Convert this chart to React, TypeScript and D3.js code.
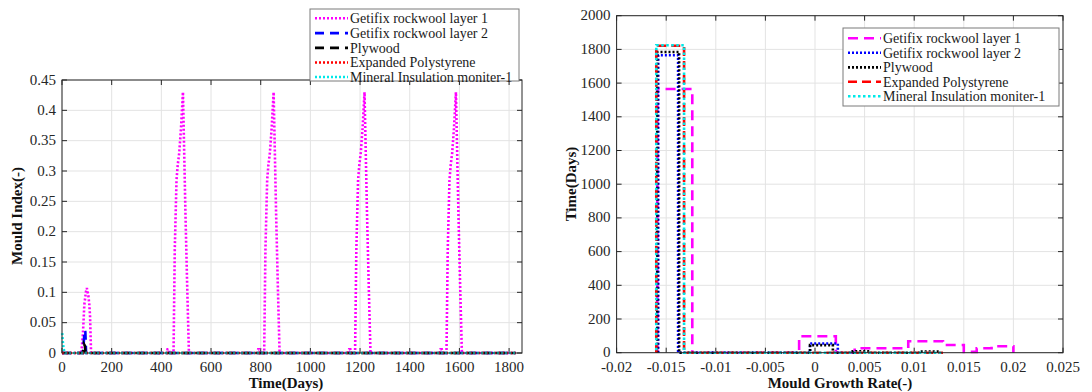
import React from 'react';
import * as d3 from 'd3';

const W = 1092;
const H = 392;
const FONT = '"Liberation Serif", "Times New Roman", serif';

// ---------------- Left chart data ----------------
const leftXTicks = [0, 200, 400, 600, 800, 1000, 1200, 1400, 1600, 1800];
const leftYTicks = [0, 0.05, 0.1, 0.15, 0.2, 0.25, 0.3, 0.35, 0.4, 0.45];
const leftYTickLabels = ['0', '0.05', '0.1', '0.15', '0.2', '0.25', '0.3', '0.35', '0.4', '0.45'];

const layer1Days = [
  0, 78, 84, 90, 96, 100, 106, 110, 113, 117,
  422, 425, 430, 433, 449, 454, 461, 466, 472, 479, 487, 491, 497, 504, 511,
  787, 790, 795, 798, 814, 819, 826, 831, 837, 844, 852, 856, 862, 869, 876,
  1153, 1156, 1161, 1164, 1180, 1185, 1192, 1197, 1203, 1210, 1218, 1222, 1228, 1235, 1242,
  1521, 1524, 1529, 1532, 1548, 1553, 1560, 1565, 1571, 1578, 1586, 1590, 1596, 1603, 1610,
  1826,
];
const layer1Index = [
  0, 0, 0.03, 0.08, 0.1, 0.107, 0.095, 0.08, 0.06, 0,
  0, 0.006, 0.006, 0, 0, 0.17, 0.285, 0.31, 0.33, 0.37, 0.43, 0.35, 0.23, 0.11, 0,
  0, 0.006, 0.006, 0, 0, 0.17, 0.285, 0.31, 0.33, 0.37, 0.43, 0.35, 0.23, 0.11, 0,
  0, 0.006, 0.006, 0, 0, 0.17, 0.285, 0.31, 0.33, 0.37, 0.43, 0.35, 0.23, 0.11, 0,
  0, 0.006, 0.006, 0, 0, 0.17, 0.285, 0.31, 0.33, 0.37, 0.43, 0.35, 0.23, 0.11, 0,
  0,
];
const layer2Days = [0, 84, 88, 91, 94, 97, 1826];
const layer2Index = [0, 0, 0.02, 0.038, 0.035, 0, 0];
const plywoodDays = [0, 84, 88, 92, 95, 1826];
const plywoodIndex = [0, 0, 0.015, 0.012, 0, 0];
const epsDays = [0, 1826];
const epsIndex = [0, 0];
const mineralDays = [0, 3, 6, 10, 14, 1826];
const mineralIndex = [0.036, 0.02, 0.008, 0.002, 0, 0];

// ---------------- Right chart data (histogram stairs) ----------------
const rightXTicks = [-0.02, -0.015, -0.01, -0.005, 0, 0.005, 0.01, 0.015, 0.02, 0.025];
const rightXTickLabels = ['-0.02', '-0.015', '-0.01', '-0.005', '0', '0.005', '0.01', '0.015', '0.02', '0.025'];
const rightYTicks = [0, 200, 400, 600, 800, 1000, 1200, 1400, 1600, 1800, 2000];

const layer1Edges = [-0.0159, -0.01237, -0.0016, 0.0021, 0.004, 0.0094, 0.0129, 0.015, 0.0163, 0.0178, 0.02];
const layer1Counts = [1565, 0, 98, 0, 26, 68, 46, 5, 26, 38];
const layer2Edges = [-0.0158, -0.0138, -0.0005, 0.0023];
const layer2Counts = [1765, 0, 55];
const plywoodEdges = [-0.0159, -0.0137, -0.0005, 0.0018, 0.0038, 0.0055, 0.0106, 0.0126];
const plywoodCounts = [1785, 0, 45, 0, 8, 0, 7];
const epsEdges = [-0.016, -0.0132, 0.0129];
const epsCounts = [1822, 0];
const mineralEdges = [-0.016, -0.0132, 0.0129];
const mineralCounts = [1825, 0];

const legendNames = [
  'Getifix rockwool layer 1',
  'Getifix rockwool layer 2',
  'Plywood',
  'Expanded Polystyrene',
  'Mineral Insulation moniter-1',
];
const colors = ['#ff00ff', '#0000ff', '#000000', '#ff0000', '#00e8e8'];

const leftStyles = [
  { dash: '2,2', w: 2.6 },
  { dash: '9,6', w: 2.6 },
  { dash: '9,6', w: 2.6 },
  { dash: '2,2', w: 2.6 },
  { dash: '2,2', w: 2.6 },
];
const rightStyles = [
  { dash: '10,6', w: 2.6 },
  { dash: '2,2', w: 2.6 },
  { dash: '2,2', w: 2.6 },
  { dash: '9,5', w: 2.6 },
  { dash: '2.5,2.5', w: 2.6 },
];

const AXIS = '#262626';
const GRID = '#e3e3e3';

function stairs(edges: number[], counts: number[]): [number, number][] {
  const pts: [number, number][] = [[edges[0], 0]];
  for (let i = 0; i < counts.length; i++) {
    pts.push([edges[i], counts[i]]);
    pts.push([edges[i + 1], counts[i]]);
  }
  pts.push([edges[edges.length - 1], 0]);
  return pts;
}

function Frame({ x0, x1, y0, y1, xs, ys, xTicks, yTicks, xLabels, yLabels }: any) {
  const tl = 5;
  return (
    <g>
      {xTicks.map((t: number, i: number) => (
        <line key={'gx' + i} x1={xs(t)} x2={xs(t)} y1={y0} y2={y1} stroke={GRID} strokeWidth={1} />
      ))}
      {yTicks.map((t: number, i: number) => (
        <line key={'gy' + i} x1={x0} x2={x1} y1={ys(t)} y2={ys(t)} stroke={GRID} strokeWidth={1} />
      ))}
      {xTicks.map((t: number, i: number) => (
        <g key={'tx' + i}>
          <line x1={xs(t)} x2={xs(t)} y1={y1} y2={y1 - tl} stroke={AXIS} />
          <line x1={xs(t)} x2={xs(t)} y1={y0} y2={y0 + tl} stroke={AXIS} />
          <text x={xs(t)} y={y1 + 19} textAnchor="middle" fontSize={15} fontFamily={FONT} fill="#262626">
            {xLabels[i]}
          </text>
        </g>
      ))}
      {yTicks.map((t: number, i: number) => (
        <g key={'ty' + i}>
          <line x1={x0} x2={x0 + tl} y1={ys(t)} y2={ys(t)} stroke={AXIS} />
          <line x1={x1} x2={x1 - tl} y1={ys(t)} y2={ys(t)} stroke={AXIS} />
          <text x={x0 - 6} y={ys(t)} dy="0.3em" textAnchor="end" fontSize={15} fontFamily={FONT} fill="#262626">
            {yLabels[i]}
          </text>
        </g>
      ))}
    </g>
  );
}

function Legend({ x, y, w, h, rowY, styles }: any) {
  return (
    <g>
      <rect x={x} y={y} width={w} height={h} fill="#ffffff" stroke="#7a7a7a" strokeWidth={1} />
      {legendNames.map((n, i) => (
        <g key={n}>
          <line
            x1={x + 5}
            x2={x + 38}
            y1={rowY[i]}
            y2={rowY[i]}
            stroke={colors[i]}
            strokeWidth={styles[i].w}
            strokeDasharray={styles[i].dash}
          />
          <text x={x + 40} y={rowY[i]} dy="0.35em" fontSize={14} fontFamily={FONT} fill="#1a1a1a">
            {n}
          </text>
        </g>
      ))}
    </g>
  );
}

export default function App() {
  // Left chart
  const L = { x0: 62, x1: 522, y0: 80, y1: 353 };
  const lx = d3.scaleLinear().domain([0, 1852]).range([L.x0, L.x1]);
  const ly = d3.scaleLinear().domain([0, 0.45]).range([L.y1, L.y0]);
  const lline = d3
    .line<[number, number]>()
    .x((d) => lx(d[0]))
    .y((d) => ly(d[1]));
  const leftSeries: [number[], number[]][] = [
    [layer1Days, layer1Index],
    [layer2Days, layer2Index],
    [plywoodDays, plywoodIndex],
    [epsDays, epsIndex],
    [mineralDays, mineralIndex],
  ];

  // Right chart
  const R = { x0: 616.6, x1: 1063, y0: 15.7, y1: 352.7 };
  const rx = d3.scaleLinear().domain([-0.02, 0.025]).range([R.x0, R.x1]);
  const ry = d3.scaleLinear().domain([0, 2000]).range([R.y1, R.y0]);
  const rline = d3
    .line<[number, number]>()
    .x((d) => rx(d[0]))
    .y((d) => ry(d[1]));
  const rightSeries: [number[], number[]][] = [
    [layer1Edges, layer1Counts],
    [layer2Edges, layer2Counts],
    [plywoodEdges, plywoodCounts],
    [epsEdges, epsCounts],
    [mineralEdges, mineralCounts],
  ];

  return (
    <svg
      width={W}
      height={H}
      viewBox={`0 0 ${W} ${H}`}
      style={{ position: 'absolute', left: 0, top: 0, background: '#ffffff' }}
    >
      <rect x={0} y={0} width={W} height={H} fill="#ffffff" />

      {/* ---------- Left chart ---------- */}
      <Frame
        x0={L.x0}
        x1={L.x1}
        y0={L.y0}
        y1={L.y1}
        xs={lx}
        ys={ly}
        xTicks={leftXTicks}
        yTicks={leftYTicks}
        xLabels={leftXTicks.map(String)}
        yLabels={leftYTickLabels}
      />
      {leftSeries.map(([xs, ys], i) => (
        <path
          key={'ls' + i}
          d={lline(xs.map((v, j) => [v, ys[j]] as [number, number])) || ''}
          fill="none"
          stroke={colors[i]}
          strokeWidth={leftStyles[i].w}
          strokeDasharray={leftStyles[i].dash}
          strokeDashoffset={i === 4 ? 2 : 0}
        />
      ))}
      <rect x={L.x0} y={L.y0} width={L.x1 - L.x0} height={L.y1 - L.y0} fill="none" stroke={AXIS} strokeWidth={1} />
      <text x={286} y={388} textAnchor="middle" fontSize={15} fontWeight="bold" fontFamily={FONT} fill="#111">
        Time(Days)
      </text>
      <text
        transform={`translate(22,216) rotate(-90)`}
        textAnchor="middle"
        fontSize={15}
        fontWeight="bold"
        fontFamily={FONT}
        fill="#111"
      >
        Mould Index(-)
      </text>
      <Legend x={310} y={9} w={209} h={72} rowY={[18.3, 33.1, 47.9, 62.5, 77]} styles={leftStyles} />

      {/* ---------- Right chart ---------- */}
      <Frame
        x0={R.x0}
        x1={R.x1}
        y0={R.y0}
        y1={R.y1}
        xs={rx}
        ys={ry}
        xTicks={rightXTicks}
        yTicks={rightYTicks}
        xLabels={rightXTickLabels}
        yLabels={rightYTicks.map(String)}
      />
      {rightSeries.map(([e, c], i) => (
        <path
          key={'rs' + i}
          d={rline(stairs(e, c)) || ''}
          fill="none"
          stroke={colors[i]}
          strokeWidth={rightStyles[i].w}
          strokeDasharray={rightStyles[i].dash}
          strokeDashoffset={i === 4 ? 2.5 : 0}
        />
      ))}
      <rect x={R.x0} y={R.y0} width={R.x1 - R.x0} height={R.y1 - R.y0} fill="none" stroke={AXIS} strokeWidth={1} />
      <text x={840} y={388} textAnchor="middle" fontSize={15} fontWeight="bold" fontFamily={FONT} fill="#111">
        Mould Growth Rate(-)
      </text>
      <text
        transform={`translate(576,184) rotate(-90)`}
        textAnchor="middle"
        fontSize={15}
        fontWeight="bold"
        fontFamily={FONT}
        fill="#111"
      >
        Time(Days)
      </text>
      <Legend x={843} y={28} w={216} h={78} rowY={[38.3, 52.7, 67.4, 81.8, 96.2]} styles={rightStyles} />
    </svg>
  );
}
